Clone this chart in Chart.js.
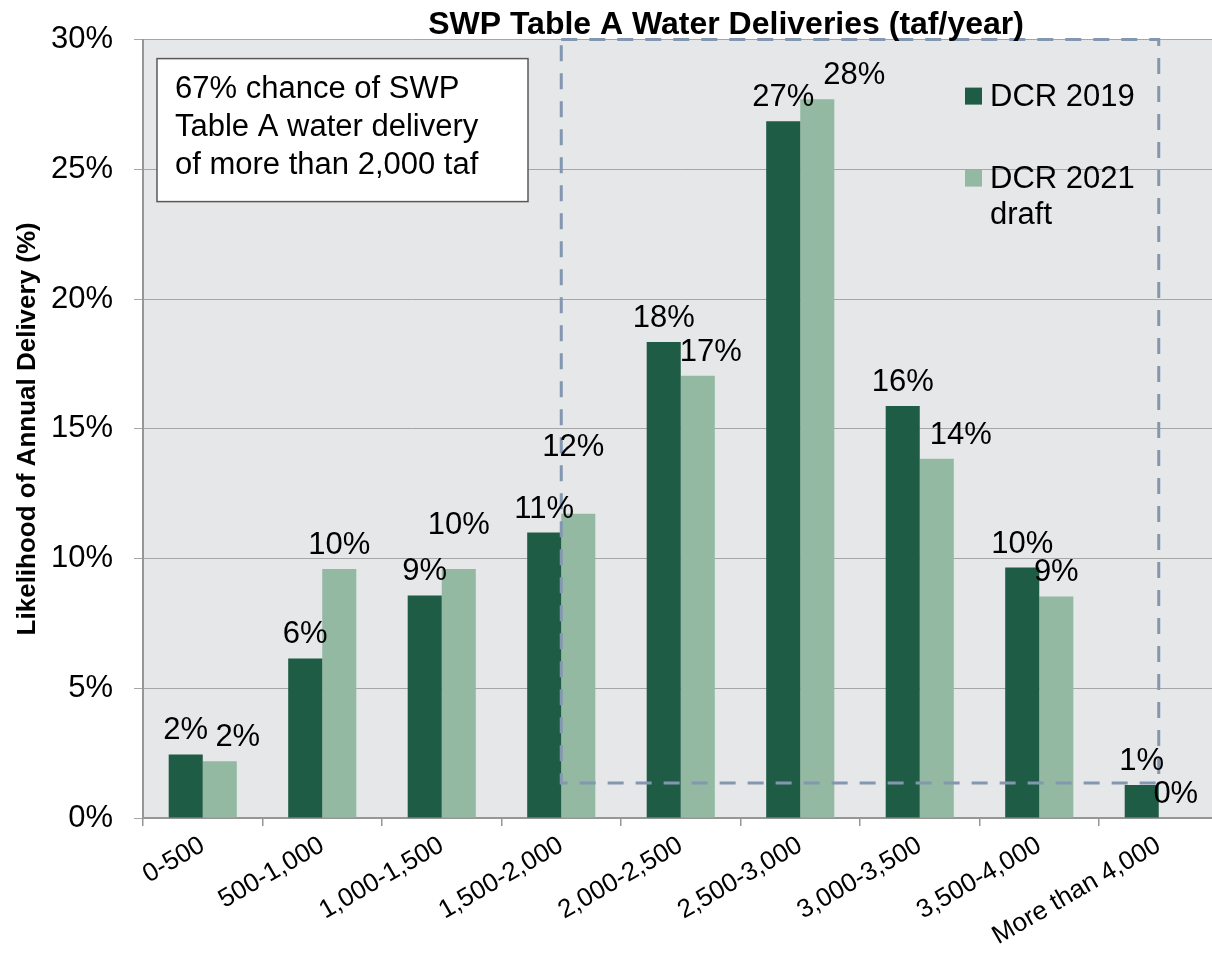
<!DOCTYPE html>
<html>
<head>
<meta charset="utf-8">
<script src="https://cdn.jsdelivr.net/npm/chart.js@4.4.1/dist/chart.umd.min.js"></script>
<style>
html, body { margin: 0; padding: 0; background: #fff; overflow: hidden; }
#wrap { position: absolute; left: 0; top: 0; width: 1220px; height: 955px; }
</style>
</head>
<body>
<div id="wrap"><canvas id="deliveryChart" width="1220" height="955"></canvas></div>
<script>
// data (percent likelihood per delivery range, taf/year)
const categories = ['0-500', '500-1,000', '1,000-1,500', '1,500-2,000', '2,000-2,500',
    '2,500-3,000', '3,000-3,500', '3,500-4,000', 'More than 4,000'];
const dcr2019 = [2.45, 6.15, 8.58, 11.0, 18.35, 26.85, 15.88, 9.65, 1.27];
const dcr2021 = [2.19, 9.6, 9.6, 11.73, 17.04, 27.7, 13.85, 8.54, 0];
const yTicks = [0, 5, 10, 15, 20, 25, 30];
const seriesNames = ['DCR 2019', 'DCR 2021 draft'];
const legendLines = [['DCR 2019'], ['DCR 2021', 'draft']];
const noteLines = ['67% chance of SWP', 'Table A water delivery', 'of more than 2,000 taf'];
const chartTitle = 'SWP Table A Water Deliveries (taf/year)';
const yTitle = 'Likelihood of Annual Delivery (%)';

// highlighted range: from 1,500-2,000 to More than 4,000
const boxFrom = 3, boxTo = 8, boxLow = 1.35, boxHigh = 30;

// manual label nudges (the 2021 labels were dragged in the original)
const nudgeX2021 = [18, 0, 0, -5, 13, 37, 24, 0, 0];
const nudgeY2021 = [0, 0, -20, -43, 0, 0, 0, 0, 0];

const FONT = '"Liberation Sans", Arial, sans-serif';
const colors = ['#1f5c45', '#93b9a2'];

// plot background
const plotBackground = {
    id: 'plotBackground',
    beforeDraw(chart) {
        const { ctx, chartArea: a } = chart;
        ctx.save();
        ctx.fillStyle = '#e6e7e9';
        ctx.fillRect(a.left, a.top, a.right - a.left, a.bottom - a.top);
        ctx.restore();
    }
};

// dashed box + value labels
const overlays = {
    id: 'overlays',
    afterDatasetsDraw(chart) {
        const { ctx, scales } = chart;
        const x0 = scales.x.getPixelForValue(boxFrom);
        const x1 = scales.x.getPixelForValue(boxTo);
        const y0 = scales.y.getPixelForValue(boxHigh);
        const y1 = scales.y.getPixelForValue(boxLow);
        ctx.save();
        ctx.strokeStyle = '#8497b0';
        ctx.lineWidth = 3;
        ctx.setLineDash([16, 12]);
        ctx.strokeRect(x0, y0, x1 - x0, y1 - y0);
        ctx.restore();

        ctx.save();
        ctx.font = '31px ' + FONT;
        ctx.fillStyle = '#000';
        ctx.textAlign = 'center';
        ctx.textBaseline = 'alphabetic';
        chart.data.datasets.forEach((ds, i) => {
            chart.getDatasetMeta(i).data.forEach((bar, j) => {
                const dx = i === 1 ? nudgeX2021[j] : 0;
                const dy = i === 1 ? nudgeY2021[j] : 0;
                ctx.fillText(Math.round(ds.data[j]) + '%', bar.x + dx, bar.y - 15 + dy);
            });
        });
        ctx.restore();
    },
    afterDraw(chart) {
        const { ctx, chartArea: a } = chart;
        // title
        ctx.save();
        ctx.font = 'bold 32px ' + FONT;
        ctx.fillStyle = '#000';
        ctx.textAlign = 'center';
        ctx.fillText(chartTitle, a.left + 583, a.top - 6);
        ctx.restore();

        // note box
        ctx.save();
        ctx.fillStyle = '#fff';
        ctx.strokeStyle = '#595959';
        ctx.lineWidth = 1.5;
        ctx.fillRect(a.left + 14, a.top + 19, 371, 143);
        ctx.strokeRect(a.left + 14, a.top + 19, 371, 143);
        ctx.font = '31px ' + FONT;
        ctx.fillStyle = '#000';
        noteLines.forEach((line, i) => ctx.fillText(line, a.left + 32, a.top + 58 + i * 38));
        ctx.restore();

        // legend
        ctx.save();
        ctx.font = '31px ' + FONT;
        const tops = [48, 130];
        legendLines.forEach((lines, i) => {
            ctx.fillStyle = colors[i];
            ctx.fillRect(a.left + 822, a.top + tops[i], 17, 17);
            ctx.fillStyle = '#000';
            lines.forEach((t, k) => ctx.fillText(t, a.left + 847, a.top + tops[i] + 18 + k * 36));
        });
        ctx.restore();
    }
};

new Chart(document.getElementById('deliveryChart'), {
    type: 'bar',
    data: {
        labels: categories,
        datasets: [
            { label: seriesNames[0], data: dcr2019, backgroundColor: colors[0] },
            { label: seriesNames[1], data: dcr2021, backgroundColor: colors[1] }
        ]
    },
    options: {
        responsive: false,
        devicePixelRatio: 1,
        animation: false,
        layout: { padding: { top: 38, right: 1.5, left: 0, bottom: 0 } },
        datasets: { bar: { categoryPercentage: 0.57, barPercentage: 1.0 } },
        plugins: {
            legend: { display: false },
            tooltip: { enabled: false }
        },
        scales: {
            x: {
                offset: true,
                grid: { drawOnChartArea: false, offset: true, tickLength: 8, color: '#969696', lineWidth: 1.5 },
                border: { color: '#969696', width: 2 },
                ticks: {
                    color: '#000',
                    font: { family: FONT, size: 26 },
                    minRotation: 30,
                    maxRotation: 30,
                    padding: 4
                },
                afterFit(scale) { scale.height = 137; }
            },
            y: {
                min: 0,
                max: 30,
                afterBuildTicks(scale) { scale.ticks = yTicks.map(v => ({ value: v })); },
                grid: { color: '#a6a6a6', lineWidth: 1, tickLength: 9 },
                border: { color: '#969696', width: 2 },
                ticks: {
                    color: '#000',
                    font: { family: FONT, size: 31 },
                    padding: 21,
                    callback: v => v + '%'
                },
                title: {
                    display: true,
                    text: yTitle,
                    color: '#000',
                    font: { family: FONT, size: 26, weight: 'bold' },
                    padding: { top: 12, bottom: 0 }
                },
                afterFit(scale) { scale.width = 143; }
            }
        }
    },
    plugins: [plotBackground, overlays]
});
</script>
</body>
</html>
